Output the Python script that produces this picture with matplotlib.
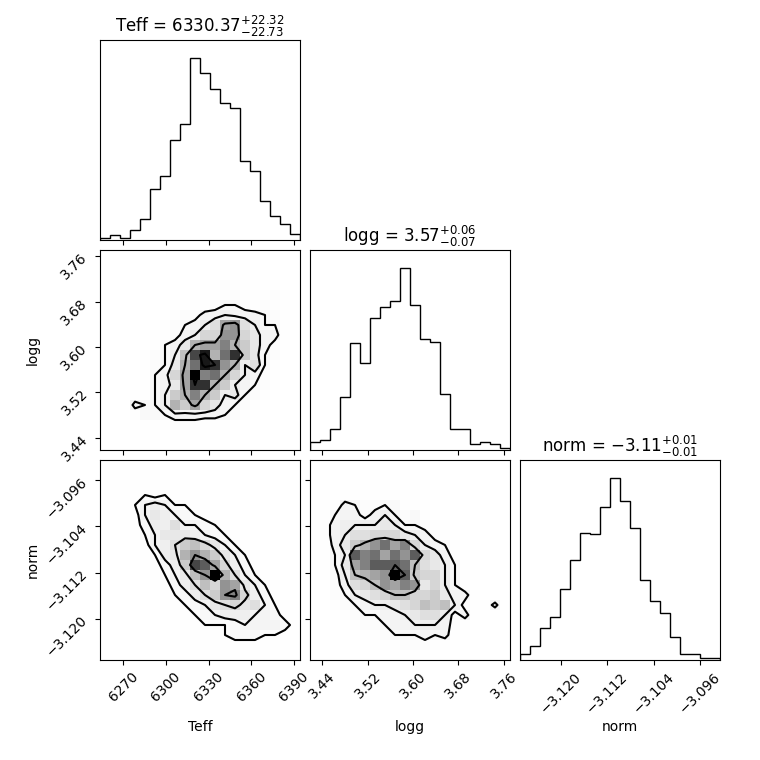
import numpy as np
import matplotlib
matplotlib.use("Agg")
import matplotlib.pyplot as plt
from matplotlib.colors import LinearSegmentedColormap

# parameters
labels = ["Teff", "logg", "norm"]
ranges = [(6253.6, 6394.2), (3.4185, 3.7713), (-3.1271, -3.0925)]
ticks = [[6270, 6300, 6330, 6360, 6390],
         [3.44, 3.52, 3.60, 3.68, 3.76],
         [-3.120, -3.112, -3.104, -3.096]]
medians = [6330.37, 3.57, -3.11]
err_minus = [22.73, 0.07, 0.01]
err_plus = [22.32, 0.06, 0.01]

# 1D histograms, 20 bins each
hist_teff = [1, 3, 1, 5.3, 11.4, 27.9, 35.4, 55, 63.7, 100,
             91.7, 82.9, 75.2, 72.5, 43.5, 38, 21.7, 13.4, 8.6, 3.5]
hist_logg = [4.6, 5.5, 11.4, 29, 59, 47.7, 72.5, 78.5, 81.7, 100,
             79.8, 61.3, 59.6, 30.8, 11.4, 11.4, 3.1, 4.6, 3.1, 0.9]
hist_norm = [3.1, 7.7, 17.4, 23.5, 38.9, 54.9, 69.7, 69.2, 84, 100,
             87.5, 72.5, 43.9, 32.7, 26.1, 12.8, 3.3, 3.3, 1.3, 0.9]

# 2D histograms, 20x20 bins, rows from top (high y) to bottom
grid_teff_logg = [
    [0, 0, 0, 0, 0, 0, 0, 0, 0, 0, 0, 0, 0, 0, 0, 1, 0, 0, 0, 0],
    [0, 0, 0, 0, 0, 0, 0, 0, 0, 0, 0, 0, 1, 0, 1, 0, 0, 0, 0, 0],
    [0, 0, 0, 0, 0, 0, 0, 0, 0, 0, 0, 1, 0, 1, 1, 0, 1, 0, 0, 0],
    [0, 0, 0, 0, 0, 0, 0, 0, 0, 0, 1, 1, 2, 1, 1, 1, 0, 1, 0, 0],
    [0, 0, 0, 0, 0, 0, 0, 0, 0, 1, 1, 1, 1, 2, 1, 1, 1, 2, 1, 0],
    [0, 0, 0, 0, 0, 0, 0, 1, 0, 1, 1, 2, 3, 3, 2, 1, 2, 1, 1, 1],
    [0, 0, 0, 0, 0, 0, 0, 1, 2, 2, 4, 4, 5, 4, 4, 4, 3, 2, 1, 0],
    [0, 0, 0, 0, 0, 0, 1, 2, 3, 4, 5, 7, 12, 13, 7, 5, 3, 3, 1, 1],
    [0, 0, 0, 0, 0, 1, 1, 2, 4, 5, 8, 8, 13, 13, 8, 6, 4, 4, 1, 0],
    [0, 0, 0, 0, 0, 1, 3, 4, 6, 11, 12, 12, 14, 11, 9, 6, 4, 2, 1, 0],
    [0, 0, 0, 0, 1, 2, 3, 5, 10, 17, 19, 11, 15, 18, 9, 6, 3, 2, 0, 0],
    [0, 0, 0, 0, 1, 2, 3, 6, 11, 15, 19, 18, 13, 11, 5, 7, 3, 1, 0, 0],
    [0, 0, 0, 0, 1, 3, 4, 8, 12, 20, 14, 15, 11, 8, 5, 4, 2, 1, 0, 0],
    [0, 0, 0, 0, 1, 3, 4, 6, 12, 18, 18, 11, 9, 5, 4, 3, 2, 1, 0, 0],
    [0, 0, 0, 1, 1, 3, 5, 9, 11, 14, 11, 9, 5, 6, 3, 2, 1, 0, 0, 0],
    [0, 0, 0, 4, 3, 3, 5, 11, 9, 12, 8, 6, 4, 3, 2, 1, 0, 0, 0, 0],
    [0, 0, 0, 1, 3, 3, 3, 4, 4, 4, 4, 4, 3, 2, 1, 0, 0, 0, 0, 0],
    [0, 0, 1, 0, 1, 1, 1, 2, 2, 2, 1, 1, 1, 0, 0, 0, 0, 0, 0, 0],
    [0, 0, 0, 1, 0, 1, 0, 1, 1, 1, 0, 0, 1, 0, 0, 0, 0, 0, 0, 0],
    [0, 0, 0, 0, 1, 0, 0, 0, 1, 0, 0, 0, 0, 0, 0, 0, 0, 0, 0, 0],
]
grid_teff_norm = [
    [1, 0, 1, 0, 1, 0, 0, 0, 0, 0, 0, 0, 0, 0, 0, 0, 0, 0, 0, 0],
    [0, 1, 0, 1, 1, 1, 0, 0, 0, 0, 0, 0, 0, 0, 0, 0, 0, 0, 0, 0],
    [0, 1, 1, 1, 1, 1, 1, 0, 1, 0, 0, 0, 0, 0, 0, 0, 0, 0, 0, 0],
    [0, 0, 1, 1, 2, 1, 2, 1, 1, 1, 0, 0, 0, 0, 0, 0, 0, 0, 0, 0],
    [0, 1, 1, 2, 4, 5, 4, 2, 2, 1, 1, 0, 0, 0, 0, 0, 0, 0, 0, 0],
    [0, 0, 1, 1, 4, 6, 5, 4, 3, 2, 1, 1, 0, 0, 0, 0, 0, 0, 0, 0],
    [0, 0, 1, 1, 3, 5, 5, 7, 4, 4, 3, 2, 1, 0, 0, 0, 0, 0, 0, 0],
    [0, 0, 0, 1, 2, 4, 6, 6, 6, 5, 4, 3, 2, 1, 0, 0, 0, 0, 0, 0],
    [0, 0, 0, 1, 1, 4, 5, 7, 9, 10, 8, 6, 4, 2, 1, 0, 0, 0, 0, 0],
    [0, 0, 0, 0, 1, 2, 5, 6, 11, 13, 11, 9, 6, 4, 2, 1, 0, 0, 0, 0],
    [0, 0, 0, 0, 1, 1, 3, 5, 9, 17, 16, 12, 8, 5, 3, 1, 0, 0, 0, 0],
    [0, 0, 0, 0, 0, 1, 2, 4, 6, 10, 13, 20, 11, 7, 4, 2, 1, 0, 0, 0],
    [0, 0, 0, 0, 0, 1, 1, 3, 5, 7, 10, 8, 13, 12, 6, 4, 2, 1, 0, 0],
    [0, 0, 0, 0, 0, 0, 1, 2, 3, 5, 7, 9, 13, 14, 8, 5, 3, 1, 0, 0],
    [0, 0, 0, 0, 0, 0, 1, 1, 2, 3, 4, 6, 7, 8, 6, 7, 4, 2, 1, 0],
    [0, 0, 0, 0, 0, 0, 0, 1, 1, 2, 3, 4, 5, 5, 5, 4, 4, 3, 1, 0],
    [0, 0, 0, 0, 0, 0, 0, 0, 1, 1, 2, 2, 2, 3, 4, 4, 4, 4, 3, 1],
    [0, 0, 0, 0, 0, 0, 0, 0, 1, 1, 1, 1, 2, 3, 3, 3, 2, 2, 1, 1],
    [0, 0, 0, 0, 0, 0, 0, 0, 0, 1, 1, 1, 1, 1, 1, 1, 1, 1, 1, 0],
    [0, 0, 0, 0, 0, 0, 0, 0, 0, 0, 1, 1, 1, 1, 0, 1, 1, 0, 1, 0],
]
grid_logg_norm = [
    [0, 0, 1, 0, 0, 0, 0, 0, 0, 0, 0, 0, 0, 0, 0, 0, 0, 0, 0, 0],
    [0, 0, 0, 0, 0, 0, 1, 0, 0, 1, 0, 0, 0, 0, 0, 0, 0, 0, 0, 0],
    [0, 0, 0, 0, 1, 0, 1, 1, 0, 0, 1, 1, 0, 0, 0, 0, 0, 0, 0, 0],
    [0, 1, 0, 1, 1, 1, 1, 1, 1, 1, 1, 0, 1, 0, 0, 0, 0, 0, 0, 0],
    [0, 1, 1, 4, 3, 2, 2, 3, 3, 1, 1, 1, 0, 0, 0, 0, 0, 0, 0, 0],
    [1, 1, 3, 4, 4, 2, 4, 5, 3, 2, 3, 1, 0, 0, 0, 0, 0, 0, 0, 0],
    [1, 2, 4, 5, 5, 5, 5, 6, 5, 3, 3, 2, 1, 1, 0, 0, 0, 0, 0, 0],
    [0, 2, 4, 5, 7, 7, 8, 8, 8, 6, 5, 4, 2, 1, 0, 0, 0, 0, 0, 0],
    [1, 1, 4, 6, 9, 11, 13, 15, 12, 14, 8, 5, 4, 3, 1, 0, 0, 0, 0, 0],
    [0, 1, 3, 5, 16, 14, 15, 12, 15, 13, 16, 8, 6, 4, 2, 0, 1, 0, 0, 0],
    [0, 1, 3, 6, 12, 14, 16, 16, 16, 15, 10, 7, 6, 5, 3, 1, 0, 0, 0, 0],
    [0, 1, 2, 5, 10, 11, 12, 13, 20, 16, 9, 8, 8, 5, 3, 1, 1, 0, 0, 0],
    [0, 0, 2, 4, 7, 8, 10, 13, 12, 14, 13, 6, 8, 5, 3, 1, 0, 0, 0, 0],
    [0, 0, 2, 3, 5, 6, 7, 8, 10, 10, 8, 8, 9, 6, 4, 4, 1, 0, 0, 0],
    [0, 0, 1, 2, 3, 4, 5, 5, 6, 7, 8, 10, 9, 10, 5, 2, 1, 1, 4, 0],
    [0, 0, 0, 1, 2, 3, 3, 4, 4, 5, 6, 7, 7, 5, 2, 4, 1, 0, 0, 0],
    [0, 0, 0, 0, 1, 2, 2, 3, 4, 4, 5, 5, 5, 4, 2, 1, 0, 0, 0, 0],
    [0, 0, 0, 0, 0, 1, 1, 2, 3, 3, 3, 4, 3, 4, 1, 0, 0, 0, 0, 0],
    [0, 0, 0, 0, 0, 0, 1, 1, 1, 2, 2, 2, 1, 1, 0, 0, 0, 0, 0, 0],
    [0, 0, 0, 0, 0, 0, 0, 0, 1, 1, 1, 0, 0, 0, 0, 0, 0, 0, 0, 0],
]

hists = [hist_teff, hist_logg, hist_norm]
grids = {(1, 0): grid_teff_logg, (2, 0): grid_teff_norm, (2, 1): grid_logg_norm}
levels = 1.0 - np.exp(-0.5 * np.arange(0.5, 2.1, 0.5) ** 2)

density_cmap = LinearSegmentedColormap.from_list("density_cmap", ["k", (1, 1, 1, 0)])
white_cmap = LinearSegmentedColormap.from_list("white_cmap", [(1, 1, 1), (1, 1, 1)], N=2)


def draw_2d(ax, H, xr, yr):
    # H is [y, x] with y going up
    H = np.array(H, dtype=float)[::-1]
    X = np.linspace(xr[0], xr[1], H.shape[1] + 1)
    Y = np.linspace(yr[0], yr[1], H.shape[0] + 1)

    # contour levels enclosing given fractions of the mass
    Hflat = np.sort(H.flatten())[::-1]
    sm = np.cumsum(Hflat)
    sm /= sm[-1]
    V = np.empty(len(levels))
    for k, v0 in enumerate(levels):
        try:
            V[k] = Hflat[sm <= v0][-1]
        except IndexError:
            V[k] = Hflat[0]
    V.sort()
    m = np.diff(V) == 0
    while np.any(m):
        V[np.where(m)[0][0]] *= 1.0 - 1e-4
        m = np.diff(V) == 0
    V.sort()

    # padded grid for the contours
    X1, Y1 = 0.5 * (X[1:] + X[:-1]), 0.5 * (Y[1:] + Y[:-1])
    H2 = H.min() + np.zeros((H.shape[0] + 4, H.shape[1] + 4))
    H2[2:-2, 2:-2] = H
    H2[2:-2, 1] = H[:, 0]
    H2[2:-2, -2] = H[:, -1]
    H2[1, 2:-2] = H[0]
    H2[-2, 2:-2] = H[-1]
    H2[1, 1] = H[0, 0]
    H2[1, -2] = H[0, -1]
    H2[-2, 1] = H[-1, 0]
    H2[-2, -2] = H[-1, -1]
    X2 = np.concatenate([X1[0] + np.array([-2, -1]) * np.diff(X1[:2]), X1,
                         X1[-1] + np.array([1, 2]) * np.diff(X1[-2:])])
    Y2 = np.concatenate([Y1[0] + np.array([-2, -1]) * np.diff(Y1[:2]), Y1,
                         Y1[-1] + np.array([1, 2]) * np.diff(Y1[-2:])])

    ax.contourf(X2, Y2, H2, [V.min(), H.max()], cmap=white_cmap, antialiased=False)
    ax.pcolor(X, Y, H.max() - H, cmap=density_cmap)
    ax.contour(X2, Y2, H2, V, colors="k")
    ax.set_xlim(xr)
    ax.set_ylim(yr)


fig, axes = plt.subplots(3, 3, figsize=(7.6, 7.6), dpi=100)
lb = 1.0 / 7.6
tr = 7.2 / 7.6
fig.subplots_adjust(left=lb, bottom=lb, right=tr, top=tr, wspace=0.05, hspace=0.05)

for i in range(3):
    for j in range(3):
        ax = axes[i, j]
        if j > i:
            ax.set_frame_on(False)
            ax.set_xticks([])
            ax.set_yticks([])
            continue
        if i == j:
            edges = np.linspace(ranges[i][0], ranges[i][1], 21)
            centers = 0.5 * (edges[1:] + edges[:-1])
            ax.hist(centers, bins=edges, weights=hists[i], histtype="step", color="k")
            ax.set_xlim(ranges[i])
            ax.set_ylim(0, 1.1 * max(hists[i]))
            ax.set_yticks([])
            title = r"${{{0:.2f}}}_{{-{1:.2f}}}^{{+{2:.2f}}}$".format(medians[i], err_minus[i], err_plus[i])
            ax.set_title("{0} = {1}".format(labels[i], title))
        else:
            draw_2d(ax, grids[(i, j)], ranges[j], ranges[i])
            ax.set_yticks(ticks[i])
            ax.ticklabel_format(axis="y", useOffset=False)
            if j == 0:
                for l in ax.get_yticklabels():
                    l.set_rotation(45)
                ax.set_ylabel(labels[i])
                ax.yaxis.set_label_coords(-0.3, 0.5)
            else:
                ax.set_yticklabels([])

        ax.set_xticks(ticks[j])
        ax.ticklabel_format(axis="x", useOffset=False)
        if i < 2:
            ax.set_xticklabels([])
        else:
            for l in ax.get_xticklabels():
                l.set_rotation(45)
            ax.set_xlabel(labels[j])
            ax.xaxis.set_label_coords(0.5, -0.3)

fig.savefig("out.png", dpi=100)
